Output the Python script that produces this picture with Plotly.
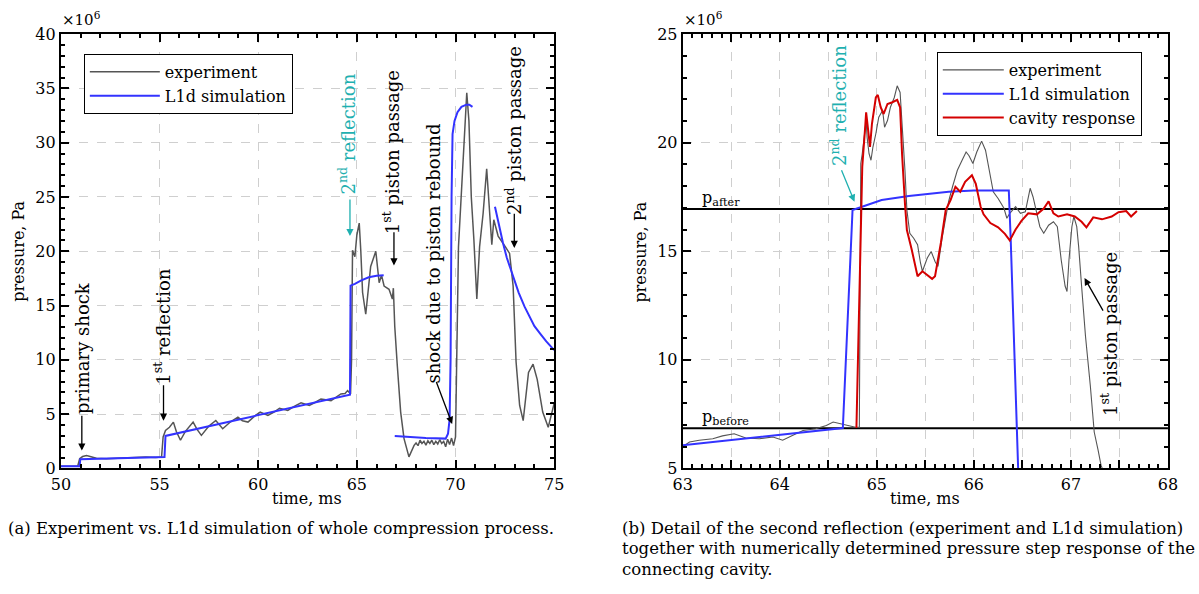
import plotly.graph_objects as go

# ---------------- data (pressure in units of 1e6 Pa, time in ms) ----------------
left_exp_t = [50.0, 50.85, 50.95, 51.1, 51.3, 51.5, 51.8, 52.3, 52.8, 53.3, 53.8, 54.3, 54.8, 55.1,
              55.18, 55.3, 55.5, 55.7, 55.85, 56.06, 56.3, 56.7, 56.9, 57.12, 57.5, 57.85, 58.2,
              58.6, 58.97, 59.2, 59.48, 59.8, 60.1, 60.49, 60.8, 61.08, 61.5, 61.8, 62.17, 62.59,
              62.9, 63.18, 63.69, 64.0, 64.19, 64.4, 64.53, 64.68, 64.73, 64.78, 64.9, 65.0, 65.12,
              65.2, 65.29, 65.45, 65.5, 65.6, 65.7, 65.96, 66.13, 66.25, 66.38, 66.63, 66.8, 66.85,
              66.92, 67.05, 67.22, 67.39, 67.64, 67.9, 68.0, 68.1, 68.2, 68.3, 68.4, 68.5, 68.6,
              68.7, 68.8, 68.9, 69.0, 69.1, 69.2, 69.3, 69.4, 69.5, 69.6, 69.7, 69.8, 69.9, 70.0,
              70.15, 70.35, 70.45, 70.57, 70.68, 70.8, 70.93, 71.08, 71.22, 71.4, 71.58, 71.7,
              71.84, 71.94, 72.16, 72.53, 72.74, 72.92, 73.07, 73.25, 73.43, 73.7, 73.93, 74.14,
              74.42, 74.7, 74.96, 75.0]
left_exp_p = [0.2, 0.2, 0.9, 1.1, 1.2, 1.1, 0.95, 0.9, 0.95, 0.95, 1.0, 1.05, 1.0, 1.05,
              2.9, 3.5, 3.8, 4.27, 3.4, 2.6, 3.4, 4.27, 3.6, 3.05, 3.9, 4.42, 3.66,
              4.3, 4.73, 4.4, 4.27, 4.8, 5.19, 4.88, 5.2, 5.55, 5.34, 5.7, 6.04, 5.8,
              6.1, 6.4, 6.25, 6.6, 6.86, 6.9, 7.17, 6.86, 10.0, 20.1, 19.5, 21.5, 22.6,
              20.0, 16.2, 14.2, 15.0, 16.5, 18.6, 20.0, 17.1, 17.8, 16.8, 16.5, 15.6, 16.6,
              13.1, 9.46, 5.19, 2.75, 1.07, 2.13, 2.35, 2.1, 2.6, 2.3, 2.5, 2.15, 2.55,
              2.3, 2.6, 2.2, 2.5, 2.25, 2.65, 2.3, 2.5, 2.0, 2.7, 2.2, 2.8, 2.1, 2.9,
              20.4, 27.2, 31.1, 34.6, 32.0, 25.0, 21.1, 15.6, 20.4, 23.5, 27.6, 24.1,
              20.6, 22.9, 21.4, 20.4, 19.8, 16.8, 9.8, 5.8, 4.4, 8.85, 9.6, 8.2,
              5.2, 3.8, 5.6, 6.0]

left_sim_t = [50.0, 50.95, 50.98, 55.25, 55.3, 64.65, 64.68, 64.9, 65.2, 65.6, 66.0, 66.36, None,
              66.92, 67.5, 68.5, 69.5, 69.62, 69.7, 69.75, 69.8, 69.85, 69.95, 70.1, 70.3, 70.55,
              70.7, 70.86, None,
              72.0, 72.2, 72.4, 72.6, 72.9, 73.2, 73.5, 73.8, 74.0, 74.3, 74.6, 75.0]
left_sim_p = [0.2, 0.2, 0.85, 1.05, 3.0, 6.8, 16.84, 17.0, 17.3, 17.6, 17.75, 17.8, None,
              2.99, 2.9, 2.8, 2.75, 3.2, 4.5, 10.0, 25.0, 30.8, 32.0, 32.8, 33.3, 33.5,
              33.5, 33.3, None,
              24.1, 22.3, 20.8, 19.4, 17.7, 16.2, 14.9, 13.8, 13.1, 12.4, 11.7, 10.9]

right_exp_t = [63.0, 63.07, 63.17, 63.31, 63.41, 63.53, 63.65, 63.79, 63.93, 64.03, 64.13, 64.24,
               64.37, 64.48, 64.55, 64.63, 64.71, 64.78, 64.82, 64.83, 64.835, 64.85, 64.87, 64.89,
               64.9, 64.92, 64.94, 64.96, 64.99, 65.02, 65.06, 65.08, 65.11, 65.14, 65.18, 65.21,
               65.24, 65.26, 65.29, 65.31, 65.34, 65.38, 65.42, 65.45, 65.47, 65.52, 65.56, 65.6,
               65.63, 65.67, 65.71, 65.74, 65.78, 65.83, 65.88, 65.92, 65.95, 65.99, 66.03, 66.08,
               66.12, 66.15, 66.2, 66.25, 66.31, 66.34, 66.37, 66.43, 66.48, 66.53, 66.58, 66.61,
               66.65, 66.68, 66.72, 66.77, 66.82, 66.86, 66.9, 66.94, 66.96, 66.98, 67.01, 67.03,
               67.06, 67.08, 67.11, 67.15, 67.2, 67.24, 67.28, 67.31, 67.34]
right_exp_p = [6.0, 6.22, 6.3, 6.37, 6.5, 6.6, 6.4, 6.37, 6.45, 6.3, 6.52, 6.75,
               6.83, 6.98, 7.14, 7.06, 6.98, 6.9, 6.9, 14.15, 19.04, 19.49, 20.25, 21.02,
               20.25, 19.49, 19.19, 19.8, 20.41, 21.17, 21.48, 20.71, 21.02, 21.63, 22.08, 22.62,
               22.31, 21.02, 18.73, 16.9, 15.83, 15.6, 15.3, 14.46, 14.08, 14.69, 14.99, 14.53,
               14.3, 15.53, 16.59, 17.3, 17.97, 18.73, 19.2, 19.57, 19.4, 19.04, 19.57, 20.07,
               19.65, 18.88, 17.74, 17.43, 16.98, 16.52, 16.75, 17.05, 16.75, 16.82, 17.9, 17.5,
               16.75, 16.13, 15.83, 16.2, 16.36, 16.13, 14.6, 13.4, 13.15, 14.6, 16.13, 16.6,
               16.13, 15.2, 13.4, 11.1, 8.81, 6.68, 5.84, 5.15, 4.8]

right_sim_t = [63.0, 64.65, 64.75, 65.05, 65.33, 65.74, 66.0, 66.36, 66.38, 66.46]
right_sim_p = [6.07, 6.86, 16.9, 17.36, 17.54, 17.74, 17.8, 17.8, 15.5, 4.5]

right_cav_t = [64.79, 64.82, 64.85, 64.88, 64.89, 64.9, 64.93, 64.95, 64.99, 65.01, 65.04, 65.07,
               65.11, 65.16, 65.21, 65.24, 65.26, 65.29, 65.31, 65.36, 65.42, 65.47, 65.52, 65.57,
               65.6, 65.66, 65.71, 65.76, 65.81, 65.86, 65.91, 65.98, 66.02, 66.07, 66.1, 66.17,
               66.25, 66.32, 66.37, 66.43, 66.49, 66.56, 66.65, 66.72, 66.77, 66.82, 66.87, 66.96,
               67.04, 67.11, 67.16, 67.23, 67.32, 67.42, 67.49, 67.57, 67.62, 67.68]
right_cav_p = [6.86, 13.39, 18.88, 20.71, 21.4, 21.0, 19.8, 20.87, 22.08, 22.2, 21.63, 21.32,
               21.78, 21.86, 21.97, 21.63, 19.49, 17.2, 15.98, 15.07, 13.85, 14.08, 13.92, 13.73,
               13.85, 15.38, 16.9, 17.36, 17.97, 17.74, 18.2, 18.5, 18.1, 17.05, 16.7, 16.3,
               16.1, 15.8, 15.5, 16.0, 16.4, 16.75, 16.7, 16.97, 17.3, 16.75, 16.6, 16.7,
               16.6, 16.36, 16.1, 16.56, 16.47, 16.6, 16.8, 16.85, 16.6, 16.85]

p_after = 16.95
p_before = 6.85
right_t_range = [63, 68]

left_x_ticks = [50, 55, 60, 65, 70, 75]
left_y_ticks = [0, 5, 10, 15, 20, 25, 30, 35, 40]
right_x_ticks = [63, 63.5, 64, 64.5, 65, 65.5, 66, 66.5, 67, 67.5, 68]
right_x_text = ["63", "", "64", "", "65", "", "66", "", "67", "", "68"]
right_y_ticks = [5, 10, 15, 20, 25]

# ---------------- styling ----------------
GREY = "#555555"
BLUE = "#3333ff"
RED = "#d40000"
CYAN = "#1fb0b0"
SERIF = "DejaVu Serif"
W, H = 1199, 594
# page is shown with the default 8px body margin and photographed slightly scaled
OFF = 8
SX, SY = 1199 / 1215, 594 / 610


def px(x):
    return (x / SX - OFF) / W


def py(y):
    return 1 - (y / SY - OFF) / H


fig = go.Figure()

fig.add_trace(go.Scatter(x=left_exp_t, y=left_exp_p, mode="lines", name="experiment",
                         line=dict(color=GREY, width=1.5), xaxis="x", yaxis="y", legend="legend"))
fig.add_trace(go.Scatter(x=left_sim_t, y=left_sim_p, mode="lines", name="L1d simulation",
                         line=dict(color=BLUE, width=2), xaxis="x", yaxis="y", legend="legend",
                         connectgaps=False))

fig.add_trace(go.Scatter(x=right_t_range, y=[p_after, p_after], mode="lines", showlegend=False,
                         line=dict(color="black", width=2), xaxis="x2", yaxis="y2"))
fig.add_trace(go.Scatter(x=right_t_range, y=[p_before, p_before], mode="lines", showlegend=False,
                         line=dict(color="black", width=2), xaxis="x2", yaxis="y2"))
fig.add_trace(go.Scatter(x=right_exp_t, y=right_exp_p, mode="lines", name="experiment",
                         line=dict(color=GREY, width=1.1), xaxis="x2", yaxis="y2", legend="legend2"))
fig.add_trace(go.Scatter(x=right_sim_t, y=right_sim_p, mode="lines", name="L1d simulation",
                         line=dict(color=BLUE, width=2), xaxis="x2", yaxis="y2", legend="legend2"))
fig.add_trace(go.Scatter(x=right_cav_t, y=right_cav_p, mode="lines", name="cavity response",
                         line=dict(color=RED, width=2), xaxis="x2", yaxis="y2", legend="legend2"))

ydom = [py(470), py(33)]
axis_common = dict(showline=True, linecolor="black", linewidth=2, mirror="allticks",
                   ticks="inside", ticklen=8, tickwidth=1.5, tickcolor="black",
                   showgrid=True, gridcolor="#cfcfcf", griddash="dash", gridwidth=1,
                   zeroline=False, tickfont=dict(family=SERIF, size=16, color="black"))

fig.update_layout(
    width=W, height=H, autosize=False,
    margin=dict(l=0, r=0, t=0, b=0),
    paper_bgcolor="white", plot_bgcolor="white",
    xaxis=dict(domain=[px(59), px(554)], range=[50, 75], tickmode="array", tickvals=left_x_ticks,
               minor=dict(dtick=1, ticklen=4, tickcolor="black", ticks="inside", showgrid=False),
               anchor="y", **axis_common),
    yaxis=dict(domain=ydom, range=[0, 40], tickmode="array", tickvals=left_y_ticks,
               minor=dict(dtick=1, ticklen=4, tickcolor="black", ticks="inside", showgrid=False),
               anchor="x", **axis_common),
    xaxis2=dict(domain=[px(683), px(1170)], range=[63, 68], tickmode="array",
                tickvals=right_x_ticks, ticktext=right_x_text,
                minor=dict(dtick=0.1, ticklen=4, tickcolor="black", ticks="inside", showgrid=False),
                anchor="y2", **axis_common),
    yaxis2=dict(domain=ydom, range=[5, 25], tickmode="array", tickvals=right_y_ticks,
                minor=dict(dtick=1, ticklen=4, tickcolor="black", ticks="inside", showgrid=False),
                anchor="x2", **axis_common),
    legend=dict(x=px(82), y=py(53), xanchor="left", yanchor="top", bgcolor="white",
                bordercolor="black", borderwidth=1, itemwidth=70,
                font=dict(family=SERIF, size=16, color="black")),
    legend2=dict(x=px(938), y=py(51), xanchor="left", yanchor="top", bgcolor="white",
                 bordercolor="black", borderwidth=1, itemwidth=61,
                 font=dict(family=SERIF, size=16, color="black")),
)

ann = []


def text(xr, yr, x, y, s, angle=0, color="black", size=18, family=SERIF, xanchor="center"):
    ann.append(dict(xref=xr, yref=yr, x=x, y=y, text=s, showarrow=False, textangle=angle,
                    xanchor=xanchor, yanchor="middle", borderpad=0,
                    font=dict(family=family, size=size, color=color)))


def arrow(xr, yr, x0, y0, x1, y1, color="black"):
    ann.append(dict(xref=xr, yref=yr, axref=xr, ayref=yr, x=x1, y=y1, ax=x0, ay=y0, text="",
                    showarrow=True, arrowhead=2, arrowsize=1.1, arrowwidth=1.3, arrowcolor=color))


# left plot annotations
text("x", "y", 51.06, 11.07, "primary shock", -90)
arrow("x", "y", 51.06, 5.0, 51.06, 1.65)
text("x", "y", 55.15, 13.1, "1<sup>st</sup> reflection", -90)
arrow("x", "y", 55.2, 7.8, 55.2, 4.4)
text("x", "y", 64.5, 30.75, "2<sup>nd</sup> reflection", -90, color=CYAN)
arrow("x", "y", 64.65, 24.9, 64.65, 21.4, color=CYAN)
text("x", "y", 66.77, 29.1, "1<sup>st</sup> piston passage", -90)
arrow("x", "y", 66.88, 21.9, 66.88, 18.7)
text("x", "y", 68.86, 19.8, "shock due to piston rebound", -90)
arrow("x", "y", 69.0, 8.1, 69.83, 4.1)
text("x", "y", 72.93, 31.1, "2<sup>nd</sup> piston passage", -90)
arrow("x", "y", 72.98, 23.6, 72.98, 20.3)

# right plot annotations
text("x2", "y2", 64.61, 21.73, "2<sup>nd</sup> reflection", -90, color=CYAN)
arrow("x2", "y2", 64.63, 18.8, 64.77, 17.28, color=CYAN)
text("x2", "y2", 67.4, 11.18, "1<sup>st</sup> piston passage", -90)
arrow("x2", "y2", 67.34, 12.2, 67.14, 13.77)
text("x2", "y2", 63.19, 17.45, "p<sub>after</sub>", size=16, xanchor="left")
text("x2", "y2", 63.19, 7.35, "p<sub>before</sub>", size=16, xanchor="left")

# axis titles, multipliers, captions
text("paper", "paper", px(306), py(500), "time, ms", size=16)
text("paper", "paper", px(926), py(500), "time, ms", size=16)
text("paper", "paper", px(17), py(252), "pressure, Pa", -90, size=16)
text("paper", "paper", px(641), py(252), "pressure, Pa", -90, size=16)
text("paper", "paper", px(59), py(18), "×10<sup>6</sup>", size=15, xanchor="left")
text("paper", "paper", px(683), py(18), "×10<sup>6</sup>", size=15, xanchor="left")
text("paper", "paper", px(5), py(530),
     "(a) Experiment vs. L1d simulation of whole compression process.", size=16.5,
     xanchor="left")
text("paper", "paper", px(621), py(530),
     "(b) Detail of the second reflection (experiment and L1d simulation)", size=16.5,
     xanchor="left")
text("paper", "paper", px(621), py(551),
     "together with numerically determined pressure step response of the", size=16.5,
     xanchor="left")
text("paper", "paper", px(621), py(572), "connecting cavity.", size=16.5,
     xanchor="left")

fig.update_layout(annotations=ann)
fig.write_html("out.html")
